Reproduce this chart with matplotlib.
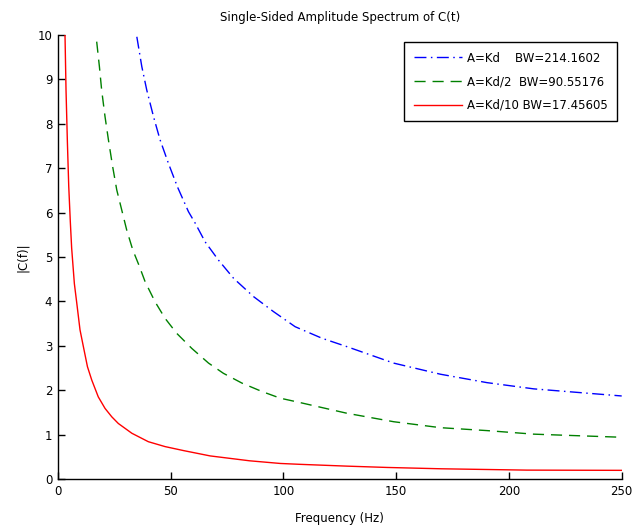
import matplotlib
matplotlib.use("Agg")
import matplotlib.pyplot as plt

# Data
blue_f = [35.0, 37.2, 39.4, 42.4, 45.3, 49.0, 53.0, 57.9, 60.9, 65.3, 71.2, 77.9, 86.7, 95.6, 105.2,
          117.1, 128.2, 148.9, 169.6, 190.3, 211.0, 250.0]
blue_v = [9.96, 9.29, 8.76, 8.16, 7.64, 7.11, 6.58, 6.02, 5.76, 5.34, 4.93, 4.52, 4.11, 3.77, 3.43,
          3.17, 2.98, 2.61, 2.36, 2.17, 2.03, 1.87]

green_f = [17.2, 18.4, 19.4, 20.9, 22.4, 24.3, 26.1, 28.3, 30.5, 33.2, 35.9, 38.7, 43.1, 47.5, 52.7,
           59.4, 66.8, 73.4, 81.6, 90.5, 98.6, 107.5, 128.2, 148.9, 169.6, 190.3, 211.0, 250.0]
green_v = [9.85, 9.29, 8.76, 8.16, 7.64, 7.03, 6.51, 6.06, 5.61, 5.16, 4.82, 4.44, 3.99, 3.62, 3.28,
           2.94, 2.61, 2.38, 2.16, 1.97, 1.82, 1.72, 1.48, 1.29, 1.156, 1.09, 1.01, 0.94]

red_f = [3.15, 3.6, 4.2, 4.8, 5.5, 6.1, 7.3, 8.3, 9.8, 11.3, 13.1, 15.0, 17.9, 20.9, 23.9, 26.8,
         32.8, 40.1, 47.5, 55.7, 67.5, 85.0, 98.6, 107.5, 128.0, 146.0, 170.0, 208.0, 250.0]
red_v = [10.0, 8.76, 7.6, 6.6, 5.8, 5.2, 4.4, 3.99, 3.36, 2.98, 2.53, 2.23, 1.85, 1.59, 1.40, 1.25,
         1.03, 0.84, 0.73, 0.64, 0.52, 0.41, 0.35, 0.33, 0.29, 0.26, 0.23, 0.20, 0.195]

labels = ["A=Kd    BW=214.1602", "A=Kd/2  BW=90.55176", "A=Kd/10 BW=17.45605"]
x_ticks = [0, 50, 100, 150, 200, 250]
y_ticks = list(range(0, 11))

plt.rcParams['font.family'] = ['DejaVu Sans']
FS = 8.5

fig = plt.figure(figsize=(6.33, 5.27), dpi=100)
ax = fig.add_axes([57.9 / 633, 48 / 527, (621.7 - 57.9) / 633, (479 - 35) / 527])

ax.plot(blue_f, blue_v, color=(0, 0, 1), lw=1.0, linestyle=(0, (8.6, 3.2, 1.1, 3.2)), label=labels[0])
ax.plot(green_f, green_v, color=(0, 0.5, 0), lw=1.0, linestyle=(0, (8.0, 5.0)), label=labels[1])
ax.plot(red_f, red_v, color=(1, 0, 0), lw=1.0, linestyle='-', label=labels[2])

ax.set_xlim(0, 250)
ax.set_ylim(0, 10)
ax.set_xticks(x_ticks)
ax.set_yticks(y_ticks)
ax.tick_params(direction='in', length=4.7, width=1, labelsize=FS, colors='black')
ax.tick_params(axis='x', pad=4.5)
ax.tick_params(axis='y', pad=4)
ax.spines['top'].set_visible(False)
ax.spines['right'].set_visible(False)
for s in ('left', 'bottom'):
    ax.spines[s].set_linewidth(1.0)
    ax.spines[s].set_color('black')

ax.set_title("Single-Sided Amplitude Spectrum of C(t)", fontsize=FS, pad=10)
ax.set_xlabel("Frequency (Hz)", fontsize=FS, labelpad=10)
ax.set_ylabel("|C(f)|", fontsize=FS, labelpad=6)

leg = ax.legend(loc='upper right', bbox_to_anchor=(0.992, 0.984), borderaxespad=0,
                fontsize=FS, frameon=True, fancybox=False, shadow=False, framealpha=1,
                edgecolor='black', handlelength=4.1, handletextpad=0.42,
                labelspacing=0.9, borderpad=0.8)
leg.get_frame().set_linewidth(1.0)

fig.savefig("out.png", dpi=100)
